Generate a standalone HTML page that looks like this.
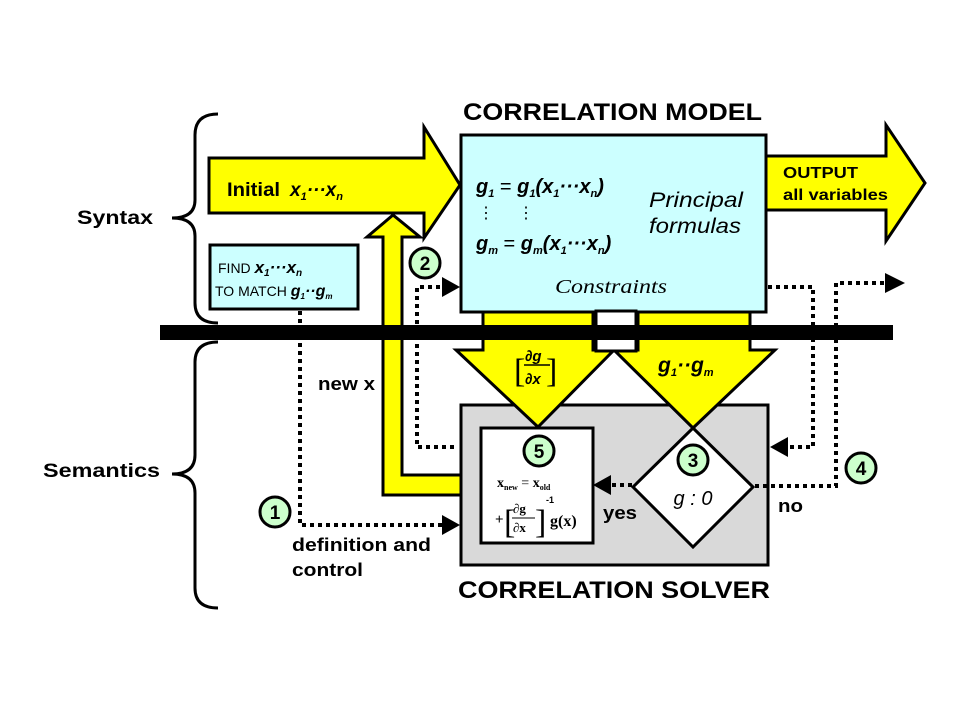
<!DOCTYPE html>
<html><head><meta charset="utf-8"><style>
body{margin:0;background:#fff}
svg{display:block}
text{font-family:"Liberation Sans",Arial,sans-serif;fill:#000}
.b{font-weight:bold}
.m{font-family:"Liberation Sans",Arial,sans-serif;font-style:italic;font-weight:bold}
.s{font-family:"Liberation Serif",serif;font-weight:bold}
</style></head><body>
<svg width="960" height="720" viewBox="0 0 960 720" xmlns="http://www.w3.org/2000/svg">
<g fill="none" stroke="#000" stroke-width="3">
<path d="M218,114 Q195,114 195,135 L195,200 Q195,218 172,218 Q195,218 195,236 L195,303 Q195,323 218,323"/>
<path d="M218,342 Q195,342 195,362 L195,455 Q195,474 172,474 Q195,474 195,493 L195,588 Q195,608 218,608"/>
</g>
<text x="77" y="224" class="b" font-size="19" textLength="76" lengthAdjust="spacingAndGlyphs">Syntax</text>
<text x="43" y="477" class="b" font-size="19" textLength="117" lengthAdjust="spacingAndGlyphs">Semantics</text>
<rect x="461" y="135" width="305" height="177" fill="#ccffff" stroke="#000" stroke-width="3"/>
<polygon points="209,158 424,158 424,127 460,185 424,238 424,213 209,213" fill="#ffff00" stroke="#000" stroke-width="3"/>
<text x="227" y="196" class="b" font-size="19" textLength="53" lengthAdjust="spacingAndGlyphs">Initial</text>
<text x="290" y="196" class="m" font-size="19">x<tspan font-size="11" dy="4">1</tspan><tspan dy="-4">···x</tspan><tspan font-size="11" dy="4">n</tspan></text>
<polygon points="766,156 886,156 886,125 925,183 886,241 886,210 766,210" fill="#ffff00" stroke="#000" stroke-width="3"/>
<text x="783" y="178" class="b" font-size="16" textLength="75" lengthAdjust="spacingAndGlyphs">OUTPUT</text>
<text x="783" y="200" class="b" font-size="16" textLength="105" lengthAdjust="spacingAndGlyphs">all variables</text>
<polygon points="383,237 367,237 393,215 420,237 402,237 402,475 481,475 481,495 383,495" fill="#ffff00" stroke="#000" stroke-width="3"/>
<rect x="210" y="245" width="148" height="64" fill="#ccffff" stroke="#000" stroke-width="3"/>
<text x="218" y="273" font-size="14">FIND <tspan class="m" font-size="17">x<tspan font-size="10" dy="3">1</tspan><tspan dy="-3">···x</tspan><tspan font-size="10" dy="3">n</tspan></tspan></text>
<text x="215" y="296" font-size="14">TO MATCH <tspan class="m" font-size="16">g<tspan font-size="8" dy="3">1</tspan><tspan dy="-3">··g</tspan><tspan font-size="8" dy="3">m</tspan></tspan></text>
<text x="476" y="193" class="m" font-size="20">g<tspan font-size="11" dy="4">1</tspan><tspan dy="-4" font-weight="normal" font-style="normal"> = </tspan>g<tspan font-size="11" dy="4">1</tspan><tspan dy="-4">(x</tspan><tspan font-size="11" dy="4">1</tspan><tspan dy="-4">···x</tspan><tspan font-size="11" dy="4">n</tspan><tspan dy="-4">)</tspan></text>
<text x="478" y="218" font-size="16">⋮</text><text x="518" y="218" font-size="16">⋮</text>
<text x="476" y="250" class="m" font-size="20">g<tspan font-size="11" dy="4">m</tspan><tspan dy="-4" font-weight="normal" font-style="normal"> = </tspan>g<tspan font-size="11" dy="4">m</tspan><tspan dy="-4">(x</tspan><tspan font-size="11" dy="4">1</tspan><tspan dy="-4">···x</tspan><tspan font-size="11" dy="4">n</tspan><tspan dy="-4">)</tspan></text>
<text x="649" y="207" font-size="21" font-style="italic" textLength="94" lengthAdjust="spacingAndGlyphs">Principal</text>
<text x="649" y="233" font-size="21" font-style="italic" textLength="92" lengthAdjust="spacingAndGlyphs">formulas</text>
<text x="555" y="293" font-size="20" font-style="italic" textLength="112" lengthAdjust="spacingAndGlyphs" style="font-family:'Liberation Serif',serif">Constraints</text>
<text x="463" y="120" class="b" font-size="24" textLength="299" lengthAdjust="spacingAndGlyphs">CORRELATION MODEL</text>
<rect x="461" y="405" width="307" height="160" fill="#d9d9d9" stroke="#000" stroke-width="3"/>
<polygon points="483,312 593,312 593,350 614,350 538,427 456,350 483,350" fill="#ffff00" stroke="#000" stroke-width="3"/>
<polygon points="638,312 750,312 750,350 775,350 693,428 614,350 638,350" fill="#ffff00" stroke="#000" stroke-width="3"/>
<rect x="596" y="311" width="40" height="40" fill="#fff" stroke="#000" stroke-width="3"/>
<rect x="160" y="325" width="733" height="15" fill="#000"/>
<text x="514" y="382" font-size="34" style="font-family:'Liberation Serif',serif">[</text>
<text x="546" y="382" font-size="34" style="font-family:'Liberation Serif',serif">]</text>
<text x="525" y="361" class="m" font-size="15">∂g</text>
<line x1="524" y1="365" x2="550" y2="365" stroke="#000" stroke-width="1.5"/>
<text x="525" y="384" class="m" font-size="15">∂x</text>
<text x="658" y="372" class="m" font-size="21">g<tspan font-size="11" dy="4">1</tspan><tspan dy="-4">··g</tspan><tspan font-size="11" dy="4">m</tspan></text>
<rect x="481" y="428" width="112" height="115" fill="#fff" stroke="#000" stroke-width="3"/>
<text x="497" y="487" class="s" font-size="14">x<tspan font-size="8" dy="3">new</tspan><tspan dy="-3" font-weight="normal"> = </tspan>x<tspan font-size="8" dy="3">old</tspan></text>
<text x="495" y="524" class="s" font-size="15">+</text>
<text x="504" y="533" font-size="34" style="font-family:'Liberation Serif',serif">[</text>
<text x="535" y="533" font-size="34" style="font-family:'Liberation Serif',serif">]</text>
<text x="513" y="513" class="s" font-size="13">∂g</text>
<line x1="512" y1="518" x2="535" y2="518" stroke="#000" stroke-width="1"/>
<text x="513" y="532" class="s" font-size="13">∂x</text>
<text x="546" y="503" class="b" font-size="9">-1</text>
<text x="550" y="526" class="s" font-size="16">g(x)</text>
<polygon points="693,428 753,487 693,547 633,487" fill="#fff" stroke="#000" stroke-width="3"/>
<text x="693" y="505" font-size="20" font-style="italic" text-anchor="middle">g : 0</text>
<text x="458" y="598" class="b" font-size="24" textLength="312" lengthAdjust="spacingAndGlyphs">CORRELATION SOLVER</text>
<g fill="none" stroke="#000" stroke-width="4" stroke-dasharray="4,4">
<path d="M300,311 L300,525 L442,525"/>
<path d="M454,447 L417,447 L417,287 L442,287"/>
<path d="M768,287 L813,287 L813,447 L788,447"/>
<path d="M755,486 L836,486 L836,283 L885,283"/>
<path d="M632,485 L610,485"/>
</g>
<g fill="#000">
<polygon points="442,515 460,525 442,535"/>
<polygon points="442,277 460,287 442,297"/>
<polygon points="788,437 770,447 788,457"/>
<polygon points="885,273 905,283 885,293"/>
<polygon points="611,475 593,485 611,495"/>
</g>
<g stroke="#000" stroke-width="3" fill="#ccffcc">
<circle cx="275" cy="512" r="15"/>
<circle cx="425" cy="263" r="15"/>
<circle cx="693" cy="460" r="15"/>
<circle cx="861" cy="468" r="15"/>
<circle cx="539" cy="451" r="15"/>
</g>
<g font-size="19" text-anchor="middle">
<text x="275" y="519" class="b">1</text>
<text x="425" y="270" class="b">2</text>
<text x="693" y="467" class="b">3</text>
<text x="861" y="475" class="b">4</text>
<text x="539" y="458" class="b">5</text>
</g>
<text x="318" y="390" class="b" font-size="18" textLength="57" lengthAdjust="spacingAndGlyphs">new x</text>
<text x="292" y="551" class="b" font-size="18" textLength="139" lengthAdjust="spacingAndGlyphs">definition and</text>
<text x="292" y="576" class="b" font-size="18" textLength="71" lengthAdjust="spacingAndGlyphs">control</text>
<text x="603" y="519" class="b" font-size="18" textLength="34" lengthAdjust="spacingAndGlyphs">yes</text>
<text x="778" y="512" class="b" font-size="18" textLength="25" lengthAdjust="spacingAndGlyphs">no</text>
</svg>
</body></html>
